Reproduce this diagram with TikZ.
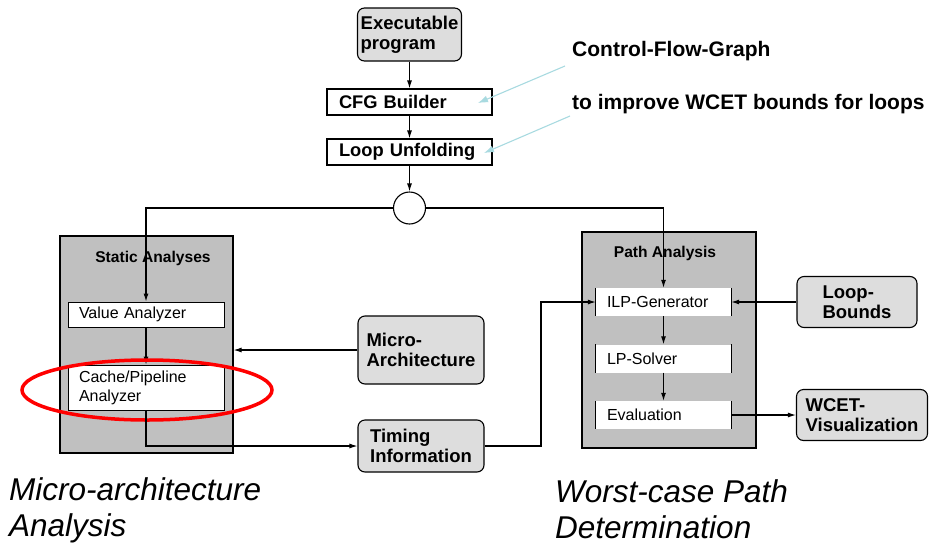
\documentclass[tikz,border=0pt]{standalone}
\usepackage{fontspec}
\setmainfont{Liberation Sans}
\usetikzlibrary{arrows.meta,shapes.geometric}
\definecolor{boxgray}{RGB}{221,221,221}
\definecolor{panelgray}{RGB}{192,192,192}
\definecolor{noteblue}{RGB}{168,218,224}

\begin{document}
\begin{tikzpicture}[x=1pt,y=-1pt,
  >={Latex[length=8pt,width=5pt]},
  inputbox/.style={draw, line width=1.1pt, rounded corners=7pt, fill=boxgray, align=left, inner sep=0pt, font=\bfseries\fontsize{18.5}{20}\selectfont},
  stepbox/.style={draw, line width=1.1pt, fill=white, text width=141pt, inner xsep=12pt, inner ysep=0pt, minimum height=26pt, align=left, font=\bfseries\fontsize{18.3}{19}\selectfont},
  panel/.style={draw, line width=1.1pt, fill=panelgray, inner sep=0pt},
  paneltitle/.style={inner sep=0pt, font=\bfseries\fontsize{15.6}{17}\selectfont},
  unitbox/.style={fill=white, inner ysep=0pt, align=left, font=\fontsize{16}{19}\selectfont},
  note/.style={anchor=west, inner sep=0pt, font=\bfseries\fontsize{21}{23}\selectfont},
  notearrow/.style={draw=noteblue, line width=1.1pt, -{Latex[length=10pt,width=7pt]}},
  flow/.style={->, line width=1.1pt},
  caption/.style={anchor=north west, align=left, inner sep=0pt, font=\itshape\fontsize{31.5}{36}\selectfont}
]
\useasboundingbox (0,0) rectangle (933,546);

% input and preprocessing
\node[inputbox, minimum width=104pt, minimum height=53pt] (exe) at (409.5,34.5) {Executable\\program};
\node[stepbox] (cfg) at (409.5,102) {CFG Builder};
\node[stepbox] (unfold) at (409.5,152) {Loop Unfolding};
\node[circle, draw, line width=1.1pt, fill=white, minimum size=32pt, inner sep=0pt] (split) at (409.5,208) {};
\draw[flow] (exe) -- (cfg);
\draw[flow] (cfg) -- (unfold);
\draw[flow] (unfold) -- (split);

% notes
\node[note] (cfgnote) at (572,51) {Control-Flow-Graph};
\node[note] (loopnote) at (572,104) {to improve WCET bounds for loops};
\coordinate (cfgtail) at (565,66);
\coordinate (cfgtip) at (478,103);
\coordinate (looptail) at (570,116);
\coordinate (looptip) at (484,153);
\draw[notearrow] (cfgtail) -- (cfgtip);
\draw[notearrow] (looptail) -- (looptip);

% static analyses
\node[panel, minimum width=173pt, minimum height=217pt] (static) at (146.5,344.5) {};
\node[paneltitle] (stattitle) at (153,258) {Static Analyses};
\node[unitbox, draw, line width=0.9pt, text width=134pt, inner xsep=11pt, minimum height=25pt] (valan) at (146,314.5) {Value Analyzer};
\node[unitbox, draw, line width=0.9pt, text width=134pt, inner xsep=11pt, minimum height=45pt] (cachean) at (146,387.5) {Cache/Pipeline\\Analyzer};
\draw[flow] (split) -| (valan);
\draw[flow] (valan) -- (cachean);
\node[ellipse, draw=red, line width=3.5pt, minimum width=250pt, minimum height=60pt] (focus) at (147,390) {};

\node[inputbox, minimum width=126pt, minimum height=68pt] (micro) at (421,350) {Micro-\\Architecture};
\node[inputbox, minimum width=126pt, minimum height=52pt] (timing) at (421,446) {Timing\\Information};
\draw[flow] (micro.west) -- (micro.west -| static.east);
\draw[flow] (cachean) |- (timing);

% path analysis
\node[panel, minimum width=174pt, minimum height=216pt] (path) at (669,340) {};
\node[paneltitle] (pathtitle) at (665,253) {Path Analysis};
\foreach \name/\y/\txt in {ilp/302/ILP-Generator, lps/358.5/LP-Solver, evalu/415/Evaluation} {
  \node[unitbox, text width=113pt, inner xsep=11pt, minimum height=28pt] (\name) at (663.5,\y) {\txt};
  \draw[line width=0.9pt] (\name.north west) -- (\name.south west) (\name.north east) -- (\name.south east);
}
\draw[flow] (split) -| (ilp);
\draw[flow] (ilp) -- (lps);
\draw[flow] (lps) -- (evalu);
\coordinate (bend) at (541,446);
\draw[flow] (timing) -- (bend) |- (ilp);

\node[inputbox, minimum width=120pt, minimum height=51pt] (loopb) at (857,302) {Loop-\\Bounds};
\node[inputbox, minimum width=131pt, minimum height=51pt] (wcet) at (862,415) {WCET-\\Visualization};
\draw[flow] (loopb) -- (ilp);
\draw[flow] (evalu) -- (wcet);

% captions
\node[caption] (microcap) at (9,477) {Micro-architecture\\Analysis};
\node[caption] (pathcap) at (555,479) {Worst-case Path\\Determination};
\end{tikzpicture}
\end{document}
